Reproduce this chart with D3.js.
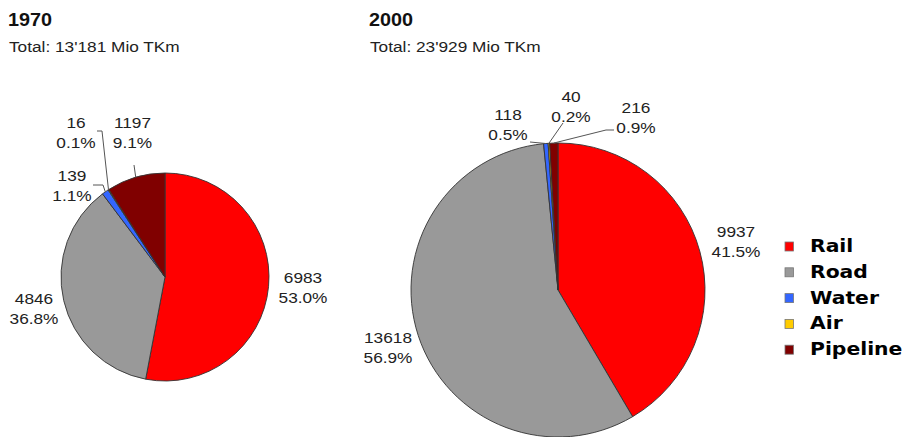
<!DOCTYPE html>
<html>
<head>
<meta charset="utf-8">
<script src="https://cdn.jsdelivr.net/npm/d3@7"></script>
<style>
  html, body { margin: 0; padding: 0; background: #fff; }
  svg { display: block; }
</style>
</head>
<body>
<svg id="chart" width="909" height="437"></svg>
<script>
// Freight transport by mode, million tonne-kilometres
const categories = ["Rail", "Road", "Water", "Air", "Pipeline"];
const colors = ["#ff0000", "#999999", "#3366ff", "#ffcc00", "#800000"];
const years = ["1970", "2000"];
const values1970 = [6983, 4846, 139, 16, 1197];
const values2000 = [9937, 13618, 118, 40, 216];

// Layout of each pie: centre, radius, title position
const pies = [
  { year: years[0], values: values1970, cx: 165, cy: 277, r: 104, tx: 8,
    labels: [[303, 283], [34, 304], [72, 181], [76, 128], [132.5, 128]],
    leaders: [null, null, [[93, 185], [103, 185]], [[97, 131], [102, 131]], [[134, 165]]] },
  { year: years[1], values: values2000, cx: 558, cy: 290, r: 147, tx: 369,
    labels: [[736, 236.5], [388, 343], [508, 119.5], [571, 102], [636, 113]],
    leaders: [null, null, [[530, 142]], [[563, 123]], [[614, 130], [606, 130]]] }
];

const svg = d3.select("#chart");
const fmtThousands = v => d3.format(",")(v).replace(/,/g, "'");
const fmtPct = d3.format(".1f");

function stretchedText(g, x, y, str, opts) {
  return g.append("text")
    .attr("transform", `translate(${x},${y}) scale(${opts.sx || 1.15},1)`)
    .attr("text-anchor", opts.anchor || "middle")
    .style("font-family", opts.family || "'Liberation Sans', Arial, sans-serif")
    .style("font-size", opts.size + "px")
    .style("font-weight", opts.weight || "normal")
    .attr("fill", opts.fill || "#222")
    .text(str);
}

const pie = d3.pie().sort(null).value(d => d);

pies.forEach(p => {
  const total = d3.sum(p.values);

  // Title and total
  stretchedText(svg, p.tx, 26, p.year, { size: 18, weight: "bold", anchor: "start", sx: 1.1, fill: "#111" });
  stretchedText(svg, p.tx + 1, 52, `Total: ${fmtThousands(total)} Mio TKm`, { size: 15, anchor: "start", sx: 1.15, fill: "#222" });

  const g = svg.append("g").attr("transform", `translate(${p.cx},${p.cy})`);
  const arc = d3.arc().innerRadius(0).outerRadius(p.r);
  const arcs = pie(p.values);

  g.selectAll("path.slice")
    .data(arcs)
    .join("path")
    .attr("class", "slice")
    .attr("d", arc)
    .attr("fill", (d, i) => colors[i])
    .attr("stroke", "#333")
    .attr("stroke-width", 0.9)
    .attr("stroke-linejoin", "round");

  // Leader lines from the slice edge to small-slice labels
  arcs.forEach((a, i) => {
    const pts = p.leaders[i];
    if (!pts) return;
    const mid = (a.startAngle + a.endAngle) / 2;
    const edge = [p.cx + p.r * Math.sin(mid), p.cy - p.r * Math.cos(mid)];
    svg.append("path")
      .attr("d", d3.line()([...pts, edge]))
      .attr("fill", "none")
      .attr("stroke", "#555")
      .attr("stroke-width", 1);
  });

  // Value and share labels
  arcs.forEach((a, i) => {
    const [lx, ly] = p.labels[i];
    stretchedText(svg, lx, ly, String(p.values[i]), { size: 15 });
    stretchedText(svg, lx, ly + 20, fmtPct(p.values[i] / total * 100) + "%", { size: 15 });
  });
});

// Legend
const legend = svg.append("g");
categories.forEach((c, i) => {
  const base = 252 + i * 25.8;
  legend.append("rect")
    .attr("x", 785).attr("y", base - 10)
    .attr("width", 8.5).attr("height", 9)
    .attr("fill", colors[i])
    .attr("stroke", "#777").attr("stroke-width", 0.8);
  stretchedText(legend, 810, base, c, {
    size: 18, weight: "bold", anchor: "start", sx: 1.13,
    family: "'DejaVu Sans', Verdana, sans-serif", fill: "#000"
  });
});
</script>
</body>
</html>
